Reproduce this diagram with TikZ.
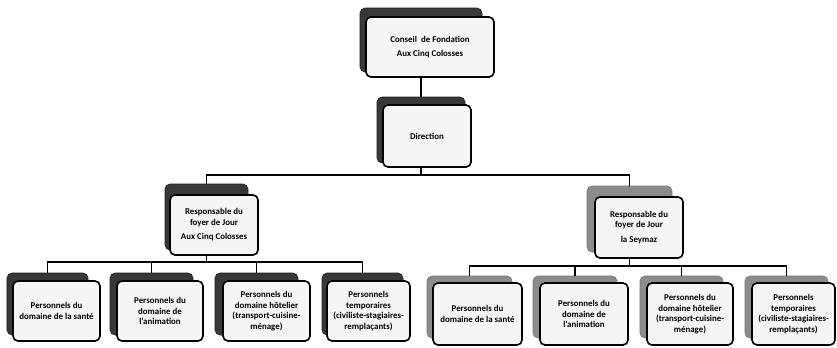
\documentclass[tikz,border=0pt]{standalone}
\usepackage{fontspec}
\setmainfont{Carlito}
\begin{document}
\begin{tikzpicture}[x=1bp,y={(0bp,-1bp)},
  front/.style={draw=black, line width=1.6bp, rounded corners=5bp, fill=black!4,
    align=center, inner sep=1bp,
    font=\bfseries\fontsize{8.9}{10.5}\selectfont},
  shdark/.style={fill=black!78, draw=black!88, line width=0.6bp, rounded corners=5bp, inner sep=0pt},
  shlight/.style={fill=black!45, draw=black!55, line width=0.6bp, rounded corners=5bp, inner sep=0pt},
  conn/.style={line width=1.5bp}]
\useasboundingbox[fill=white] (0,0) rectangle (837,347);

% bar levels
\coordinate (bar1) at (0,175);
\coordinate (bar2) at (0,262);
\coordinate (bar3) at (0,266);

% Conseil
\node[shdark, minimum width=122bp, minimum height=64bp] (conseilS) at (421,40) {};
\node[front, minimum width=128bp, minimum height=60bp] (conseil) at (430,47) {Conseil\ \ de Fondation\\[4bp]Aux Cinq Colosses};

% Direction
\node[shdark, minimum width=88bp, minimum height=66bp] (dirS) at (421,130) {};
\node[front, minimum width=88bp, minimum height=62bp] (dir) at (427,136) {Direction};

% Responsables
\node[shdark, minimum width=83bp, minimum height=66bp] (respLS) at (206.5,217) {};
\node[front, minimum width=88bp, minimum height=60bp] (respL) at (214,225) {Responsable du\\foyer de Jour\\[4bp]Aux Cinq Colosses};
\node[shlight, minimum width=85bp, minimum height=66bp] (respRS) at (629.5,219) {};
\node[front, minimum width=88bp, minimum height=61bp] (respR) at (639,227.5) {Responsable du\\foyer de Jour\\[4bp]la Seymaz};

% Bottom left group
\node[shdark, minimum width=81bp, minimum height=62bp] (b1S) at (47.5,304) {};
\node[front, minimum width=87bp, minimum height=60bp] (b1) at (56.5,311) {Personnels du\\domaine de la santé};
\node[shdark, minimum width=83bp, minimum height=62bp] (b2S) at (151.5,304) {};
\node[front, minimum width=86bp, minimum height=60bp] (b2) at (160,311) {Personnels du\\domaine de\\l’animation};
\node[shdark, minimum width=83bp, minimum height=62bp] (b3S) at (256.5,304) {};
\node[front, minimum width=87bp, minimum height=60bp] (b3) at (266.5,311) {Personnels du\\domaine hôtelier\\(transport-cuisine-\\ménage)};
\node[shdark, minimum width=81bp, minimum height=62bp] (b4S) at (362.5,304) {};
\node[front, minimum width=83bp, minimum height=60bp] (b4) at (368.5,311) {Personnels\\temporaires\\(civiliste-stagiaires-\\remplaçants)};

% Bottom right group
\node[shlight, minimum width=85bp, minimum height=62bp] (b5S) at (469.5,307) {};
\node[front, minimum width=89bp, minimum height=62bp] (b5) at (477.5,314) {Personnels du\\domaine de la santé};
\node[shlight, minimum width=84bp, minimum height=62bp] (b6S) at (575,307) {};
\node[front, minimum width=88bp, minimum height=62bp] (b6) at (584,314) {Personnels du\\domaine de\\l’animation};
\node[shlight, minimum width=83bp, minimum height=62bp] (b7S) at (681.5,307) {};
\node[front, minimum width=86bp, minimum height=62bp] (b7) at (690,314) {Personnels du\\domaine hôtelier\\(transport-cuisine-\\ménage)};
\node[shlight, minimum width=83bp, minimum height=62bp] (b8S) at (786.5,307) {};
\node[front, minimum width=83bp, minimum height=62bp] (b8) at (793.5,314) {Personnels\\temporaires\\(civiliste-stagiaires-\\remplaçants)};

% Connectors
\draw[conn] (conseilS.center |- conseil.south) -- (conseilS.center |- dirS.north);
\draw[conn] (dirS.center |- dir.south) -- (dirS.center |- bar1) -| (respLS.north);
\draw[conn] (dirS.center |- bar1) -| (respRS.north);

\draw[conn] (respLS.center |- respL.south) -- (respLS.center |- bar2);
\draw[conn] (b1S.north) |- (b4S.center |- bar2) -- (b4S.north);
\draw[conn] (b2S.center |- bar2) -- (b2S.north);
\draw[conn] (b3S.center |- bar2) -- (b3S.north);

\draw[conn] (respRS.center |- respR.south) -- (respRS.center |- bar3);
\draw[conn] (b5S.north) |- (b8S.center |- bar3) -- (b8S.north);
\draw[conn] (b6S.center |- bar3) -- (b6S.north);
\draw[conn] (b7S.center |- bar3) -- (b7S.north);
\end{tikzpicture}
\end{document}
